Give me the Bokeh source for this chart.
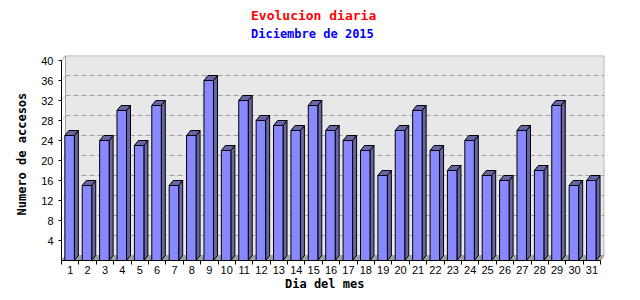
from bokeh.plotting import figure
from bokeh.models import Range1d, FixedTicker, Title
from bokeh.embed import file_html
from bokeh.resources import INLINE

# ---- data ----
dias = list(range(1, 32))
accesos = [25, 15, 24, 30, 23, 31, 15, 25, 36, 22, 32, 28, 27, 26, 31, 26,
           24, 22, 17, 26, 30, 22, 18, 24, 17, 16, 26, 18, 31, 15, 16]
y_ticks = [4, 8, 12, 16, 20, 24, 28, 32, 36, 40]
titulo = "Evolucion diaria"
subtitulo = "Diciembre de 2015"
x_label = "Dia del mes"
y_label = "Numero de accesos"

# ---- geometry ----
FL, FR, FT, FB = 61, 604, 55, 260
SLOT = 17.39          # px per day
UNIT = 5.0            # px per access
X0 = 0.5
XMAX = X0 + (FR - FL) / SLOT
YMAX = (FB - FT) / UNIT
DX = 4.0 / SLOT
DY = 1.0
W = 9.5 / SLOT
SHIFT = -0.6 / SLOT

p = figure(width=640, height=300, output_backend="svg", toolbar_location=None,
           x_range=Range1d(X0, XMAX), y_range=Range1d(0, YMAX),
           min_border_left=FL, min_border_right=640 - FR,
           min_border_top=FT, min_border_bottom=300 - FB)
p.outline_line_color = None
p.xgrid.visible = False
p.ygrid.visible = False
p.background_fill_color = "white"
p.border_fill_color = "white"

# back wall
p.quad(left=[X0 + DX], right=[XMAX - 0.02], bottom=[DY], top=[YMAX - 0.05],
       fill_color="#e8e8e8", line_color="#a0a0a0", line_width=1)
p.line([X0, X0 + DX], [40, YMAX - 0.05], line_color="#a0a0a0")

for t in y_ticks[:-1]:
    p.line([X0 + DX, XMAX - 0.02], [t + DY, t + DY], line_color="#a0a0a0",
           line_dash="5 3", line_width=1)
    p.line([X0, X0 + DX], [t, t + DY], line_color="#c8c8c8", line_width=1)

# floor
p.patch([X0, 31.5, XMAX - 0.02, X0 + DX], [0, 0, DY, DY],
        fill_color="#a0a0a0", line_color="#a0a0a0")

# bars
lefts = [d - W / 2 + SHIFT for d in dias]
rights = [d + W / 2 + SHIFT for d in dias]
side_xs = [[r, r + DX, r + DX, r] for r in rights]
side_ys = [[0, DY, v + DY, v] for v in accesos]
top_xs = [[l, r, r + DX, l + DX] for l, r in zip(lefts, rights)]
top_ys = [[v, v, v + DY, v + DY] for v in accesos]
p.patches(side_xs, side_ys, fill_color="#6666a6", line_color="black", line_width=1)
p.patches(top_xs, top_ys, fill_color="#6666a6", line_color="black", line_width=1)
p.quad(left=lefts, right=rights, bottom=0, top=accesos,
       fill_color="#8888ff", line_color="black", line_width=1)

# axes
tick_font = "Liberation Sans"
xa = p.xaxis[0]
xa.ticker = FixedTicker(ticks=dias, minor_ticks=[d + 0.5 for d in [0] + dias])
xa.bounds = (0.5, 31.5)
xa.major_tick_in = 0
xa.major_tick_out = 0
xa.minor_tick_in = 0
xa.minor_tick_out = 4
xa.minor_tick_line_color = "black"
xa.axis_line_color = "black"
xa.major_label_standoff = 1
xa.major_label_text_font = tick_font
xa.major_label_text_font_size = "11px"
xa.major_label_text_color = "black"

ya = p.yaxis[0]
ya.ticker = FixedTicker(ticks=y_ticks)
ya.bounds = (0, 40)
ya.major_tick_in = 0
ya.major_tick_out = 3
ya.minor_tick_line_color = None
ya.axis_line_color = "black"
ya.major_label_standoff = 5
ya.major_label_text_font = tick_font
ya.major_label_text_font_size = "11px"
ya.major_label_text_color = "black"

mono = "DejaVu Sans Mono"
p.add_layout(Title(text=subtitulo, align="left", offset=189.5, text_font=mono,
                   text_font_style="bold", text_font_size="12px",
                   text_color="#0000ff", standoff=29), "above")
p.add_layout(Title(text=titulo, align="left", offset=189.5, text_font=mono,
                   text_font_style="bold", text_font_size="13px",
                   text_color="#ff0000", standoff=-24), "above")
p.add_layout(Title(text=x_label, align="left", offset=223.5, text_font=mono,
                   text_font_style="bold", text_font_size="12px",
                   text_color="black", standoff=-4), "below")
p.add_layout(Title(text=y_label, align="left", offset=45, text_font=mono,
                   text_font_style="bold", text_font_size="12px",
                   text_color="black", standoff=20), "left")

open("out.html", "w").write(file_html(p, INLINE))
